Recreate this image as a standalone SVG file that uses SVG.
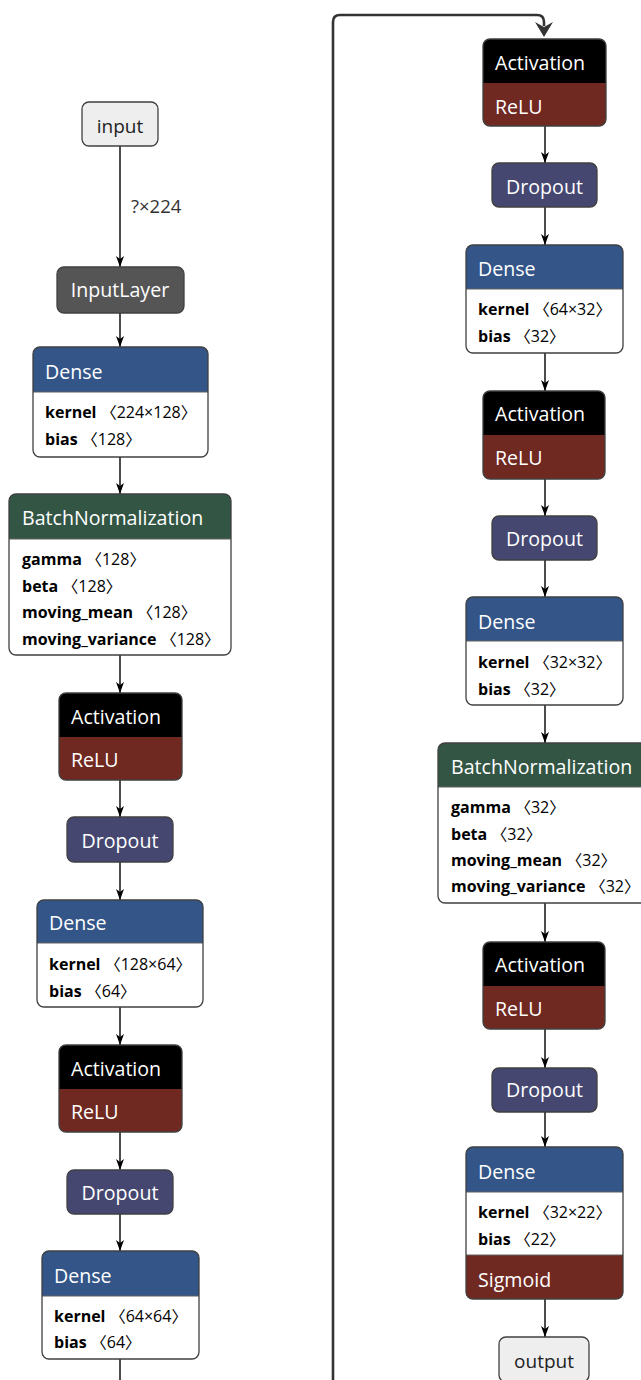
<svg xmlns="http://www.w3.org/2000/svg" width="641" height="1380" viewBox="0 0 641 1380">
  <style>
    text { font-family: "Open Sans", "Noto Sans CJK SC", "DejaVu Sans", sans-serif; }
    .title { font-size: 19.6px; fill: #ffffff; }
    .io { font-size: 19px; fill: #222222; }
    .param { font-size: 16px; fill: #000000; }
    .param .k { font-weight: bold; }
    .elabel { font-size: 18.5px; fill: #333333; }
    .frame { fill: none; stroke: #404040; stroke-width: 1.3; }
    .sep { stroke: #606060; stroke-width: 1; }
    .edge { fill: none; stroke: #000000; stroke-width: 1.4; marker-end: url(#arrow); }
    .layer { fill: #335588; }
    .norm { fill: #335544; }
    .act { fill: #702921; }
    .drop { fill: #454770; }
    .plain { fill: #000000; }
    .data { fill: #555555; }
    .body { fill: #ffffff; }
    .term { fill: #eeeeee; }
  </style>
  <defs>
    <marker id="arrow" markerUnits="userSpaceOnUse" markerWidth="12" markerHeight="10" viewBox="0 0 12 10" refX="11" refY="5" orient="auto">
      <path d="M0,1 L3,5 L0,9 L11,5 Z" fill="#000000"/>
    </marker>
  </defs>

  <!-- connectors -->
  <g id="edges">
    <path class="edge" d="M120,146 V267"/>
    <text class="elabel" x="131" y="213">?×224</text>
    <path class="edge" d="M120,313 V347"/>
    <path class="edge" d="M120,457 V494"/>
    <path class="edge" d="M120,655 V693"/>
    <path class="edge" d="M120,780 V817"/>
    <path class="edge" d="M120,862 V900"/>
    <path class="edge" d="M120,1007 V1045"/>
    <path class="edge" d="M120,1132 V1170"/>
    <path class="edge" d="M120,1214 V1251"/>
    <path d="M120,1359 V1380" fill="none" stroke="#000000" stroke-width="1.4"/>

    <!-- wrap-around link from the bottom of the first column to the second -->
    <path d="M333,1380 V22 Q333,15 340,15 H537 Q544,15 544,22 V26" fill="none" stroke="#333333" stroke-width="2.6"/>
    <path d="M535,22 L544,27 L553,22 L544,37 Z" fill="#333333"/>

    <path class="edge" d="M545,126 V163"/>
    <path class="edge" d="M545,207 V245"/>
    <path class="edge" d="M545,353 V391"/>
    <path class="edge" d="M545,479 V516"/>
    <path class="edge" d="M545,560 V597"/>
    <path class="edge" d="M545,705 V743"/>
    <path class="edge" d="M545,903 V942"/>
    <path class="edge" d="M545,1029 V1068"/>
    <path class="edge" d="M545,1112 V1147"/>
    <path class="edge" d="M545,1299 V1337"/>
  </g>

  <!-- first column -->
  <g id="input">
    <rect class="term" x="82" y="102" width="76" height="44" rx="7"/>
    <rect class="frame" x="82" y="102" width="76" height="44" rx="7"/>
    <text class="io" x="120" y="133" text-anchor="middle">input</text>
  </g>

  <g id="input_layer">
    <rect class="data" x="57" y="267" width="127" height="46" rx="7"/>
    <rect class="frame" x="57" y="267" width="127" height="46" rx="7"/>
    <text class="title" x="120" y="297" text-anchor="middle">InputLayer</text>
  </g>

  <g id="dense_1">
    <rect class="body" x="33" y="347" width="175" height="110" rx="7"/>
    <path class="layer" d="M33,392 V354 Q33,347 40,347 H201 Q208,347 208,354 V392 Z"/>
    <line class="sep" x1="33" y1="392" x2="208" y2="392"/>
    <rect class="frame" x="33" y="347" width="175" height="110" rx="7"/>
    <text class="title" x="45" y="379">Dense</text>
    <text class="param" x="45" y="418"><tspan class="k">kernel</tspan> 〈224×128〉</text>
    <text class="param" x="45" y="445"><tspan class="k">bias</tspan> 〈128〉</text>
  </g>

  <g id="batch_normalization_1">
    <rect class="body" x="9" y="494" width="222" height="161" rx="7"/>
    <path class="norm" d="M9,539 V501 Q9,494 16,494 H224 Q231,494 231,501 V539 Z"/>
    <line class="sep" x1="9" y1="539" x2="231" y2="539"/>
    <rect class="frame" x="9" y="494" width="222" height="161" rx="7"/>
    <text class="title" x="22" y="525">BatchNormalization</text>
    <text class="param" x="22" y="565"><tspan class="k">gamma</tspan> 〈128〉</text>
    <text class="param" x="22" y="592"><tspan class="k">beta</tspan> 〈128〉</text>
    <text class="param" x="22" y="618"><tspan class="k">moving_mean</tspan> 〈128〉</text>
    <text class="param" x="22" y="645"><tspan class="k">moving_variance</tspan> 〈128〉</text>
  </g>

  <g id="activation_1">
    <rect class="act" x="59" y="693" width="123" height="87" rx="7"/>
    <path class="plain" d="M59,737 V700 Q59,693 66,693 H175 Q182,693 182,700 V737 Z"/>
    <rect class="frame" x="59" y="693" width="123" height="87" rx="7"/>
    <text class="title" x="71" y="724">Activation</text>
    <text class="title" x="71" y="767">ReLU</text>
  </g>

  <g id="dropout_1">
    <rect class="drop" x="67" y="817" width="106" height="45" rx="7"/>
    <rect class="frame" x="67" y="817" width="106" height="45" rx="7"/>
    <text class="title" x="120" y="848" text-anchor="middle">Dropout</text>
  </g>

  <g id="dense_2">
    <rect class="body" x="37" y="900" width="166" height="107" rx="7"/>
    <path class="layer" d="M37,943 V907 Q37,900 44,900 H196 Q203,900 203,907 V943 Z"/>
    <line class="sep" x1="37" y1="943" x2="203" y2="943"/>
    <rect class="frame" x="37" y="900" width="166" height="107" rx="7"/>
    <text class="title" x="49" y="930">Dense</text>
    <text class="param" x="49" y="970"><tspan class="k">kernel</tspan> 〈128×64〉</text>
    <text class="param" x="49" y="997"><tspan class="k">bias</tspan> 〈64〉</text>
  </g>

  <g id="activation_2">
    <rect class="act" x="59" y="1045" width="123" height="87" rx="7"/>
    <path class="plain" d="M59,1089 V1052 Q59,1045 66,1045 H175 Q182,1045 182,1052 V1089 Z"/>
    <rect class="frame" x="59" y="1045" width="123" height="87" rx="7"/>
    <text class="title" x="71" y="1076">Activation</text>
    <text class="title" x="71" y="1119">ReLU</text>
  </g>

  <g id="dropout_2">
    <rect class="drop" x="67" y="1170" width="106" height="44" rx="7"/>
    <rect class="frame" x="67" y="1170" width="106" height="44" rx="7"/>
    <text class="title" x="120" y="1200" text-anchor="middle">Dropout</text>
  </g>

  <g id="dense_3">
    <rect class="body" x="42" y="1251" width="157" height="108" rx="7"/>
    <path class="layer" d="M42,1296 V1258 Q42,1251 49,1251 H192 Q199,1251 199,1258 V1296 Z"/>
    <line class="sep" x1="42" y1="1296" x2="199" y2="1296"/>
    <rect class="frame" x="42" y="1251" width="157" height="108" rx="7"/>
    <text class="title" x="54" y="1283">Dense</text>
    <text class="param" x="54" y="1322"><tspan class="k">kernel</tspan> 〈64×64〉</text>
    <text class="param" x="54" y="1348"><tspan class="k">bias</tspan> 〈64〉</text>
  </g>

  <!-- second column -->
  <g id="activation_3">
    <rect class="act" x="483" y="39" width="123" height="87" rx="7"/>
    <path class="plain" d="M483,83 V46 Q483,39 490,39 H599 Q606,39 606,46 V83 Z"/>
    <rect class="frame" x="483" y="39" width="123" height="87" rx="7"/>
    <text class="title" x="495" y="70">Activation</text>
    <text class="title" x="495" y="114">ReLU</text>
  </g>

  <g id="dropout_3">
    <rect class="drop" x="492" y="163" width="105" height="44" rx="7"/>
    <rect class="frame" x="492" y="163" width="105" height="44" rx="7"/>
    <text class="title" x="544.5" y="194" text-anchor="middle">Dropout</text>
  </g>

  <g id="dense_4">
    <rect class="body" x="466" y="245" width="157" height="108" rx="7"/>
    <path class="layer" d="M466,289 V252 Q466,245 473,245 H616 Q623,245 623,252 V289 Z"/>
    <line class="sep" x1="466" y1="289" x2="623" y2="289"/>
    <rect class="frame" x="466" y="245" width="157" height="108" rx="7"/>
    <text class="title" x="478" y="276">Dense</text>
    <text class="param" x="478" y="315"><tspan class="k">kernel</tspan> 〈64×32〉</text>
    <text class="param" x="478" y="342"><tspan class="k">bias</tspan> 〈32〉</text>
  </g>

  <g id="activation_4">
    <rect class="act" x="483" y="391" width="122" height="88" rx="7"/>
    <path class="plain" d="M483,435 V398 Q483,391 490,391 H598 Q605,391 605,398 V435 Z"/>
    <rect class="frame" x="483" y="391" width="122" height="88" rx="7"/>
    <text class="title" x="495" y="421">Activation</text>
    <text class="title" x="495" y="465">ReLU</text>
  </g>

  <g id="dropout_4">
    <rect class="drop" x="492" y="516" width="105" height="44" rx="7"/>
    <rect class="frame" x="492" y="516" width="105" height="44" rx="7"/>
    <text class="title" x="544.5" y="546" text-anchor="middle">Dropout</text>
  </g>

  <g id="dense_5">
    <rect class="body" x="466" y="597" width="157" height="108" rx="7"/>
    <path class="layer" d="M466,641 V604 Q466,597 473,597 H616 Q623,597 623,604 V641 Z"/>
    <line class="sep" x1="466" y1="641" x2="623" y2="641"/>
    <rect class="frame" x="466" y="597" width="157" height="108" rx="7"/>
    <text class="title" x="478" y="629">Dense</text>
    <text class="param" x="478" y="668"><tspan class="k">kernel</tspan> 〈32×32〉</text>
    <text class="param" x="478" y="695"><tspan class="k">bias</tspan> 〈32〉</text>
  </g>

  <g id="batch_normalization_2">
    <rect class="body" x="438" y="743" width="214" height="160" rx="7"/>
    <path class="norm" d="M438,787 V750 Q438,743 445,743 H645 Q652,743 652,750 V787 Z"/>
    <line class="sep" x1="438" y1="787" x2="652" y2="787"/>
    <rect class="frame" x="438" y="743" width="214" height="160" rx="7"/>
    <text class="title" x="451" y="774">BatchNormalization</text>
    <text class="param" x="451" y="813"><tspan class="k">gamma</tspan> 〈32〉</text>
    <text class="param" x="451" y="840"><tspan class="k">beta</tspan> 〈32〉</text>
    <text class="param" x="451" y="866"><tspan class="k">moving_mean</tspan> 〈32〉</text>
    <text class="param" x="451" y="892"><tspan class="k">moving_variance</tspan> 〈32〉</text>
  </g>

  <g id="activation_5">
    <rect class="act" x="483" y="942" width="122" height="87" rx="7"/>
    <path class="plain" d="M483,986 V949 Q483,942 490,942 H598 Q605,942 605,949 V986 Z"/>
    <rect class="frame" x="483" y="942" width="122" height="87" rx="7"/>
    <text class="title" x="495" y="972">Activation</text>
    <text class="title" x="495" y="1016">ReLU</text>
  </g>

  <g id="dropout_5">
    <rect class="drop" x="492" y="1068" width="105" height="44" rx="7"/>
    <rect class="frame" x="492" y="1068" width="105" height="44" rx="7"/>
    <text class="title" x="544.5" y="1097" text-anchor="middle">Dropout</text>
  </g>

  <g id="dense_6">
    <rect class="body" x="466" y="1147" width="157" height="152" rx="7"/>
    <path class="layer" d="M466,1192 V1154 Q466,1147 473,1147 H616 Q623,1147 623,1154 V1192 Z"/>
    <path class="act" d="M466,1255 H623 V1292 Q623,1299 616,1299 H473 Q466,1299 466,1292 Z"/>
    <line class="sep" x1="466" y1="1192" x2="623" y2="1192"/>
    <line class="sep" x1="466" y1="1255" x2="623" y2="1255"/>
    <rect class="frame" x="466" y="1147" width="157" height="152" rx="7"/>
    <text class="title" x="478" y="1179">Dense</text>
    <text class="param" x="478" y="1218"><tspan class="k">kernel</tspan> 〈32×22〉</text>
    <text class="param" x="478" y="1245"><tspan class="k">bias</tspan> 〈22〉</text>
    <text class="title" x="478" y="1287">Sigmoid</text>
  </g>

  <g id="output">
    <rect class="term" x="499" y="1337" width="90" height="45" rx="7"/>
    <rect class="frame" x="499" y="1337" width="90" height="45" rx="7"/>
    <text class="io" x="544" y="1368" text-anchor="middle">output</text>
  </g>
</svg>
